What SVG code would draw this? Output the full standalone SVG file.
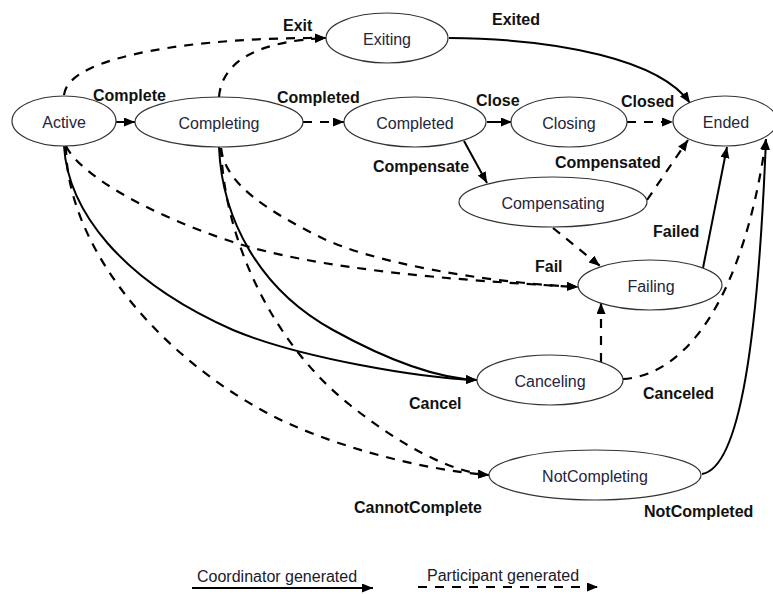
<svg xmlns="http://www.w3.org/2000/svg" width="773" height="594" viewBox="0 0 773 594">
  <style>
    .node ellipse { fill: #ffffff; stroke: #333333; stroke-width: 1.2; }
    .node text { font-family: "Liberation Sans", Arial, sans-serif; font-size: 16px; fill: #25253d; text-anchor: middle; }
    .lbl { font-family: "Liberation Sans", Arial, sans-serif; font-size: 16px; font-weight: bold; fill: #111111; }
    .legend { font-family: "Liberation Sans", Arial, sans-serif; font-size: 16px; fill: #1a1a2e; }
    .coord { fill: none; stroke: #000000; stroke-width: 2; marker-end: url(#arrow); }
    .part { fill: none; stroke: #000000; stroke-width: 2.2; stroke-dasharray: 9 8; marker-end: url(#arrow); }
  </style>
  <defs>
    <marker id="arrow" markerUnits="userSpaceOnUse" markerWidth="12" markerHeight="10" refX="11" refY="4.5" orient="auto">
      <path d="M0,0 L11,4.5 L0,9 z" fill="#000000"/>
    </marker>
  </defs>

  <rect width="773" height="594" fill="#ffffff"/>

  <!-- transitions -->
  <g id="connectors">
    <!-- coordinator generated -->
    <path class="coord" d="M116,122 L135,122"/>
    <path class="coord" d="M487,122 L512,122"/>
    <path class="coord" d="M449,38 C560,39 660,60 690,103"/>
    <path class="coord" d="M464,141 L487,183"/>
    <path class="coord" d="M703,268 L727,147"/>
    <path class="coord" d="M64,146 C68,210 120,280 233,330 C300,358 420,378 477,380"/>
    <path class="coord" d="M219,147 C222,220 260,290 333,330 C380,356 430,378 477,380"/>
    <path class="coord" d="M702,474 C740,468 758,340 766,139"/>

    <!-- participant generated -->
    <path class="part" d="M64,95 C68,55 200,37 326,38"/>
    <path class="part" d="M219,97 C222,60 260,41 326,38"/>
    <path class="part" d="M303,122 L344,122"/>
    <path class="part" d="M627,122 L673,122"/>
    <path class="part" d="M647,200 L688,140"/>
    <path class="part" d="M553,228 L600,266"/>
    <path class="part" d="M66,146 C80,175 150,215 233,242 C316,269 450,280 578,287"/>
    <path class="part" d="M221,148 C225,185 270,212 320,237 C370,262 480,282 578,287"/>
    <path class="part" d="M66,146 C66,240 150,350 267,413 C325,444 420,470 489,475"/>
    <path class="part" d="M221,148 C225,250 280,350 350,405 C400,445 450,472 489,475"/>
    <path class="part" d="M601,362 L601,303"/>
    <path class="part" d="M623,379 C690,375 745,290 766,139"/>
  </g>

  <!-- transition labels -->
  <g id="labels">
    <text class="lbl" x="283" y="31">Exit</text>
    <text class="lbl" x="93" y="101">Complete</text>
    <text class="lbl" x="277" y="103">Completed</text>
    <text class="lbl" x="492" y="25">Exited</text>
    <text class="lbl" x="476" y="106">Close</text>
    <text class="lbl" x="621" y="107">Closed</text>
    <text class="lbl" x="373" y="172">Compensate</text>
    <text class="lbl" x="555" y="168">Compensated</text>
    <text class="lbl" x="653" y="237">Failed</text>
    <text class="lbl" x="535" y="272">Fail</text>
    <text class="lbl" x="409" y="409">Cancel</text>
    <text class="lbl" x="643" y="399">Canceled</text>
    <text class="lbl" x="354" y="513">CannotComplete</text>
    <text class="lbl" x="644" y="517">NotCompleted</text>
  </g>

  <!-- states -->
  <g id="node-active" class="node">
    <ellipse cx="64" cy="121" rx="52" ry="25"/>
    <text x="64" y="128">Active</text>
  </g>
  <g id="node-completing" class="node">
    <ellipse cx="219" cy="122" rx="84" ry="25"/>
    <text x="219" y="129">Completing</text>
  </g>
  <g id="node-exiting" class="node">
    <ellipse cx="387" cy="38" rx="61" ry="25"/>
    <text x="387" y="45">Exiting</text>
  </g>
  <g id="node-completed" class="node">
    <ellipse cx="415" cy="122" rx="71" ry="25"/>
    <text x="415" y="129">Completed</text>
  </g>
  <g id="node-closing" class="node">
    <ellipse cx="569" cy="122" rx="58" ry="25"/>
    <text x="569" y="129">Closing</text>
  </g>
  <g id="node-ended" class="node">
    <ellipse cx="725" cy="121" rx="52" ry="25"/>
    <text x="726" y="128">Ended</text>
  </g>
  <g id="node-compensating" class="node">
    <ellipse cx="553" cy="202" rx="94" ry="25"/>
    <text x="553" y="209">Compensating</text>
  </g>
  <g id="node-failing" class="node">
    <ellipse cx="650" cy="285" rx="72" ry="25"/>
    <text x="651" y="292">Failing</text>
  </g>
  <g id="node-canceling" class="node">
    <ellipse cx="550" cy="380" rx="73" ry="25"/>
    <text x="550" y="387">Canceling</text>
  </g>
  <g id="node-notcompleting" class="node">
    <ellipse cx="595" cy="475" rx="106" ry="25"/>
    <text x="595" y="482">NotCompleting</text>
  </g>

  <!-- legend -->
  <g id="legend">
    <text class="legend" x="197" y="582">Coordinator generated</text>
    <path class="coord" d="M192,588 L373,588"/>
    <text class="legend" x="427" y="581">Participant generated</text>
    <path class="part" d="M418,587 L598,587"/>
  </g>
</svg>
